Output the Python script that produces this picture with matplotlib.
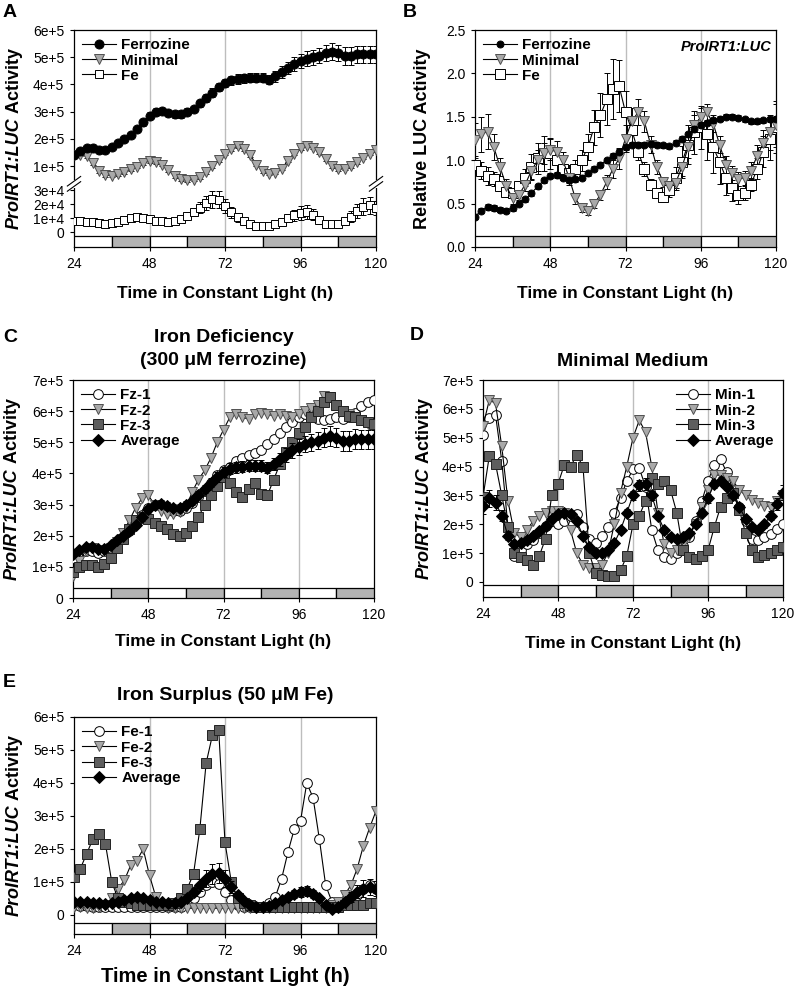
import numpy as np
import matplotlib
matplotlib.use('Agg')
import matplotlib.pyplot as plt
from matplotlib.patches import Rectangle
from matplotlib.font_manager import FontProperties
from matplotlib.transforms import IdentityTransform

plt.rcParams['font.family'] = 'Liberation Sans'

# time in constant light (h), 2 h sampling
hours = np.arange(24, 121, 2)

# ---- panel A / C : ProIRT1:LUC activity (x1e5 or x1e4) ----
ferrozine = [1.40, 1.55, 1.65, 1.65, 1.58, 1.58, 1.70, 1.85, 2.00, 2.15,
             2.35, 2.60, 2.85, 3.00, 3.02, 2.95, 2.90, 2.90, 3.00, 3.10,
             3.30, 3.50, 3.70, 3.90, 4.05, 4.15, 4.20, 4.22, 4.25, 4.25,
             4.25, 4.18, 4.30, 4.45, 4.60, 4.75, 4.85, 4.95, 5.00, 5.05,
             5.15, 5.20, 5.15, 5.05, 5.05, 5.10, 5.10, 5.10, 5.10]
ferrozine_err = [0.08, 0.08, 0.08, 0.08, 0.08, 0.08, 0.08, 0.09, 0.10, 0.10,
                 0.10, 0.12, 0.12, 0.12, 0.12, 0.12, 0.12, 0.12, 0.12, 0.12,
                 0.12, 0.14, 0.15, 0.16, 0.16, 0.17, 0.18, 0.18, 0.18, 0.18,
                 0.18, 0.18, 0.20, 0.22, 0.22, 0.24, 0.25, 0.26, 0.27, 0.28,
                 0.30, 0.32, 0.30, 0.32, 0.32, 0.32, 0.30, 0.30, 0.30]
minimal = [1.40, 1.42, 1.35, 1.10, 0.80, 0.66, 0.65, 0.70, 0.78, 0.88,
           0.98, 1.10, 1.18, 1.15, 1.05, 0.85, 0.62, 0.52, 0.47, 0.50,
           0.60, 0.78, 1.00, 1.22, 1.45, 1.62, 1.72, 1.62, 1.40, 1.05,
           0.82, 0.72, 0.75, 0.90, 1.20, 1.45, 1.65, 1.75, 1.68, 1.50,
           1.25, 1.00, 0.88, 0.90, 1.00, 1.15, 1.30, 1.45, 1.58]
minimal_err = [0.06] * 49
fe = [0.76, 0.76, 0.75, 0.72, 0.62, 0.60, 0.62, 0.75, 0.88, 0.98,
      1.05, 1.00, 0.92, 0.82, 0.78, 0.75, 0.78, 0.92, 1.15, 1.45,
      1.75, 2.10, 2.35, 2.30, 1.85, 1.40, 1.05, 0.80, 0.55, 0.45,
      0.45, 0.45, 0.55, 0.75, 1.00, 1.20, 1.35, 1.45, 1.25, 0.85,
      0.60, 0.55, 0.60, 0.80, 1.10, 1.50, 1.80, 1.90, 1.70]
fe_err = [0.10, 0.10, 0.10, 0.10, 0.10, 0.10, 0.10, 0.12, 0.15, 0.18,
          0.20, 0.20, 0.18, 0.15, 0.12, 0.12, 0.12, 0.15, 0.20, 0.30,
          0.40, 0.50, 0.60, 0.60, 0.50, 0.40, 0.30, 0.20, 0.15, 0.12,
          0.12, 0.12, 0.15, 0.20, 0.30, 0.40, 0.50, 0.50, 0.40, 0.30,
          0.20, 0.15, 0.20, 0.30, 0.40, 0.50, 0.60, 0.60, 0.50]

# ---- panel B : relative LUC activity ----
rel_ferrozine = [0.35, 0.42, 0.46, 0.45, 0.43, 0.42, 0.45, 0.50, 0.55, 0.62,
                 0.70, 0.77, 0.82, 0.83, 0.80, 0.77, 0.78, 0.80, 0.85, 0.90,
                 0.95, 1.00, 1.05, 1.10, 1.15, 1.18, 1.18, 1.18, 1.19, 1.18,
                 1.17, 1.16, 1.20, 1.25, 1.30, 1.36, 1.40, 1.43, 1.46, 1.48,
                 1.50, 1.50, 1.49, 1.47, 1.45, 1.45, 1.46, 1.47, 1.48]
rel_ferrozine_err = [0.03] * 49
rel_minimal = [1.23, 1.30, 1.33, 1.15, 0.92, 0.70, 0.56, 0.60, 0.72, 0.88,
               1.00, 1.08, 1.12, 1.10, 1.00, 0.80, 0.56, 0.45, 0.42, 0.50,
               0.60, 0.75, 0.90, 1.02, 1.25, 1.45, 1.55, 1.45, 1.18, 0.92,
               0.75, 0.70, 0.74, 0.92, 1.15, 1.40, 1.50, 1.55, 1.42, 1.18,
               0.95, 0.85, 0.78, 0.80, 0.88, 1.05, 1.20, 1.32, 1.40]
rel_minimal_err = [0.20, 0.20, 0.20, 0.15, 0.10, 0.08, 0.06, 0.06, 0.08, 0.10,
                   0.12, 0.12, 0.12, 0.12, 0.10, 0.08, 0.06, 0.05, 0.05, 0.05,
                   0.06, 0.08, 0.10, 0.12, 0.15, 0.15, 0.15, 0.12, 0.10, 0.08,
                   0.06, 0.06, 0.08, 0.10, 0.12, 0.12, 0.10, 0.10, 0.10, 0.10,
                   0.10, 0.08, 0.08, 0.08, 0.10, 0.12, 0.15, 0.20, 0.25]
rel_fe = [0.95, 0.88, 0.82, 0.78, 0.70, 0.63, 0.62, 0.70, 0.80, 0.92,
          1.02, 1.08, 1.08, 1.00, 0.90, 0.85, 0.90, 1.00, 1.15, 1.38,
          1.52, 1.70, 1.82, 1.85, 1.55, 1.35, 1.10, 0.90, 0.72, 0.62,
          0.58, 0.66, 0.80, 0.98, 1.18, 1.32, 1.38, 1.30, 1.15, 0.98,
          0.80, 0.68, 0.60, 0.62, 0.72, 0.90, 1.10, 1.25, 1.38]
rel_fe_err = [0.10, 0.10, 0.10, 0.08, 0.06, 0.05, 0.05, 0.06, 0.10, 0.15,
              0.18, 0.20, 0.18, 0.15, 0.12, 0.10, 0.10, 0.12, 0.15, 0.20,
              0.25, 0.30, 0.35, 0.30, 0.25, 0.15, 0.10, 0.08, 0.06, 0.05,
              0.05, 0.08, 0.12, 0.18, 0.22, 0.25, 0.25, 0.30, 0.30, 0.25,
              0.20, 0.15, 0.10, 0.08, 0.08, 0.12, 0.18, 0.25, 0.30]

# ---- panel C : iron deficiency replicates (x1e5) ----
fz1 = [1.30, 1.45, 1.50, 1.50, 1.45, 1.50, 1.60, 1.75, 1.95, 2.15,
       2.40, 2.65, 2.90, 3.00, 2.95, 2.85, 2.80, 2.80, 2.90, 3.05,
       3.25, 3.45, 3.70, 3.95, 4.10, 4.20, 4.40, 4.50, 4.60, 4.65,
       4.75, 4.95, 5.10, 5.30, 5.50, 5.65, 5.80, 5.90, 5.85, 5.75,
       5.70, 5.75, 5.80, 5.75, 5.80, 5.95, 6.15, 6.30, 6.35]
fz2 = [0.70, 1.20, 1.50, 1.60, 1.55, 1.50, 1.60, 1.80, 2.10, 2.50,
       2.90, 3.20, 3.30, 3.00, 2.80, 2.70, 2.70, 2.75, 2.90, 3.40,
       3.80, 4.10, 4.50, 5.00, 5.40, 5.80, 5.90, 5.80, 5.75, 5.90,
       5.95, 5.90, 5.85, 5.90, 5.85, 5.80, 5.90, 6.00, 6.10, 6.20,
       6.50, 6.45, 6.20, 6.00, 5.90, 5.80, 5.70, 5.60, 5.60]
fz3 = [0.85, 1.00, 1.05, 1.05, 1.00, 1.10, 1.30, 1.60, 1.90, 2.20,
       2.50, 2.60, 2.55, 2.40, 2.30, 2.20, 2.05, 2.00, 2.10, 2.30,
       2.60, 3.00, 3.30, 3.60, 3.90, 3.70, 3.40, 3.25, 3.50, 3.70,
       3.35, 3.30, 3.80, 4.30, 4.70, 5.00, 5.30, 5.50, 5.80, 6.00,
       6.30, 6.45, 6.20, 6.00, 5.85, 5.80, 5.70, 5.65, 5.60]

# ---- panel D : minimal medium replicates (x1e5) ----
min1 = [5.10, 5.70, 5.80, 4.20, 1.90, 0.90, 1.10, 1.30, 1.45, 1.70,
        1.95, 2.10, 2.00, 2.10, 2.30, 2.35, 1.90, 1.50, 1.35, 1.60,
        1.90, 2.40, 2.90, 3.50, 3.90, 3.95, 3.30, 1.80, 1.10, 0.85,
        0.80, 1.00, 1.25, 1.55, 2.10, 2.80, 3.50, 4.05, 4.25, 3.80,
        3.20, 2.60, 2.10, 1.50, 1.45, 1.55, 1.65, 1.85, 2.00]
min2 = [5.40, 6.30, 6.20, 4.70, 2.80, 1.70, 1.55, 1.80, 2.10, 2.30,
        2.40, 2.45, 2.45, 2.40, 1.80, 1.00, 0.60, 0.50, 0.50, 0.60,
        1.00, 2.00, 3.10, 4.00, 5.00, 5.60, 5.20, 4.00, 2.40, 1.30,
        1.00, 1.10, 1.30, 1.60, 2.00, 2.60, 3.20, 3.70, 3.70, 3.60,
        3.50, 3.20, 3.00, 2.85, 2.75, 2.65, 2.60, 2.80, 3.00]
min3 = [2.95, 4.35, 4.10, 3.00, 1.90, 1.00, 0.85, 0.75, 0.60, 0.90,
        1.50, 3.00, 3.40, 4.05, 4.00, 4.40, 4.00, 1.00, 0.30, 0.25,
        0.20, 0.20, 0.40, 0.90, 2.00, 2.30, 2.80, 3.60, 3.40, 3.50,
        3.20, 2.40, 1.10, 0.85, 0.80, 0.90, 1.10, 1.90, 2.60, 2.90,
        3.10, 2.50, 1.70, 1.10, 0.85, 0.95, 1.00, 1.10, 1.20]
min_avg = [2.65, 2.90, 2.75, 2.30, 1.60, 1.30, 1.35, 1.45, 1.60, 1.75,
           1.95, 2.20, 2.35, 2.40, 2.35, 2.10, 1.60, 1.20, 1.00, 1.00,
           1.10, 1.35, 1.80, 2.40, 3.00, 3.35, 3.40, 3.00, 2.30, 1.80,
           1.55, 1.50, 1.55, 1.70, 2.00, 2.40, 2.90, 3.40, 3.50, 3.30,
           3.00, 2.60, 2.20, 1.90, 1.80, 2.00, 2.30, 2.70, 3.10]
min_avg_err = [0.30, 0.30, 0.25, 0.20, 0.15, 0.10, 0.10, 0.10, 0.10, 0.10,
               0.10, 0.10, 0.10, 0.10, 0.10, 0.10, 0.10, 0.10, 0.10, 0.10,
               0.10, 0.10, 0.10, 0.12, 0.15, 0.20, 0.20, 0.15, 0.10, 0.10,
               0.10, 0.10, 0.10, 0.10, 0.10, 0.12, 0.15, 0.15, 0.15, 0.12,
               0.10, 0.10, 0.10, 0.10, 0.10, 0.12, 0.15, 0.20, 0.25]

# ---- panel E : iron surplus replicates (x1e5) ----
fe1 = [0.30, 0.28, 0.26, 0.25, 0.25, 0.25, 0.25, 0.25, 0.25, 0.25,
       0.25, 0.25, 0.25, 0.25, 0.25, 0.25, 0.25, 0.25, 0.35, 0.50,
       0.70, 0.90, 1.00, 0.95, 0.70, 0.45, 0.30, 0.25, 0.25, 0.25,
       0.25, 0.35, 0.55, 1.10, 1.90, 2.60, 2.85, 4.00, 3.55, 2.30,
       0.90, 0.40, 0.30, 0.30, 0.40, 0.60, 0.80, 0.90, 0.80]
fe2 = [0.25, 0.25, 0.20, 0.20, 0.25, 0.30, 0.50, 0.80, 1.05, 1.50,
       1.65, 2.00, 1.20, 0.55, 0.30, 0.20, 0.20, 0.20, 0.20, 0.20,
       0.20, 0.20, 0.20, 0.20, 0.20, 0.20, 0.20, 0.20, 0.20, 0.20,
       0.20, 0.20, 0.20, 0.20, 0.20, 0.20, 0.20, 0.20, 0.20, 0.20,
       0.20, 0.30, 0.40, 0.60, 0.90, 1.40, 2.10, 2.65, 3.15]
fe3 = [1.15, 1.40, 1.85, 2.30, 2.45, 2.15, 1.00, 0.50, 0.40, 0.35,
       0.30, 0.30, 0.30, 0.30, 0.30, 0.30, 0.35, 0.50, 0.80, 1.25,
       2.60, 4.60, 5.45, 5.60, 2.20, 1.00, 0.50, 0.35, 0.30, 0.25,
       0.25, 0.25, 0.25, 0.25, 0.25, 0.25, 0.25, 0.25, 0.25, 0.25,
       0.25, 0.25, 0.25, 0.30, 0.30, 0.30, 0.30, 0.35, 0.35]
fe_avg = [0.40, 0.40, 0.38, 0.35, 0.35, 0.33, 0.35, 0.40, 0.45, 0.50,
          0.55, 0.52, 0.45, 0.40, 0.38, 0.35, 0.35, 0.40, 0.50, 0.70,
          0.90, 1.10, 1.25, 1.28, 1.10, 0.85, 0.60, 0.42, 0.30, 0.25,
          0.25, 0.28, 0.35, 0.45, 0.55, 0.65, 0.70, 0.72, 0.65, 0.50,
          0.30, 0.18, 0.25, 0.40, 0.55, 0.70, 0.80, 0.85, 0.80]
fe_avg_err = [0.05, 0.05, 0.05, 0.05, 0.05, 0.05, 0.05, 0.05, 0.05, 0.05,
              0.06, 0.06, 0.06, 0.05, 0.05, 0.05, 0.05, 0.06, 0.08, 0.12,
              0.18, 0.25, 0.30, 0.30, 0.25, 0.18, 0.10, 0.06, 0.05, 0.05,
              0.05, 0.05, 0.06, 0.08, 0.10, 0.12, 0.15, 0.15, 0.12, 0.08,
              0.06, 0.05, 0.06, 0.10, 0.15, 0.20, 0.25, 0.25, 0.22]

LD_STARTS = [24, 36, 48, 60, 72, 84, 96, 108]
GRAY_TRI = '#a9a9a9'
DARK_SQ = '#5e5e5e'

W, H = 797, 991
fig = plt.figure(figsize=(W / 100, H / 100), dpi=100)
renderer = fig.canvas.get_renderer()
FP_IT = FontProperties(family='Liberation Sans', style='italic', weight='bold', size=13)
FP_B = FontProperties(family='Liberation Sans', weight='bold', size=13)


def add_ax(left, top, right, bottom):
    return fig.add_axes([left / W, 1 - bottom / H, (right - left) / W, (bottom - top) / H])


def luc_ylabel(ax, baseline_x):
    # "ProIRT1:LUC" bold italic + " Activity" bold, rotated, centred on the axes
    pos = ax.get_position()
    yc = (pos.y0 + pos.y1) / 2 * H
    w1 = renderer.get_text_width_height_descent('ProIRT1:LUC', FP_IT, ismath=False)[0]
    w2 = renderer.get_text_width_height_descent('\u00a0Activity', FP_B, ismath=False)[0]
    y0 = yc - (w1 + w2) / 2
    fig.text(baseline_x, y0, 'ProIRT1:LUC', fontproperties=FP_IT, rotation=90,
             rotation_mode='anchor', ha='left', va='baseline', transform=IdentityTransform())
    fig.text(baseline_x, y0 + w1, '\u00a0Activity', fontproperties=FP_B, rotation=90,
             rotation_mode='anchor', ha='left', va='baseline', transform=IdentityTransform())


def decorate(ax, bar_lo, bar_hi, ytop, yticks, ylabels, xlab_off, xlab_size=12.5):
    ax.set_xlim(24, 120)
    for i, x0 in enumerate(LD_STARTS):
        ax.add_patch(Rectangle((x0, bar_lo), 12, bar_hi - bar_lo,
                               facecolor='white' if i % 2 == 0 else '#b3b3b3',
                               edgecolor='black', lw=0.9, zorder=4))
    ax.vlines([48, 72, 96], bar_hi, ytop, color='#bdbdbd', lw=1.0, zorder=0)
    ax.set_xticks([24, 48, 72, 96, 120])
    ax.set_yticks(yticks)
    ax.set_yticklabels(ylabels)
    ax.minorticks_off()
    ax.tick_params(direction='out', length=3, width=0.8, labelsize=10, pad=4)
    for s in ax.spines.values():
        s.set_linewidth(0.9)
    ax.text(0.5, -xlab_off, 'Time in Constant Light (h)', transform=ax.transAxes,
            ha='center', va='center', fontsize=xlab_size, fontweight='bold')


def series(ax, y, scale, marker, mfc, mec, ms, label, z, err=None):
    y = np.array(y) * scale
    if err is not None:
        ax.errorbar(hours, y, yerr=np.array(err) * scale, fmt='none', ecolor='black',
                    elinewidth=0.7, capsize=2.2, capthick=0.7, zorder=z - 0.5)
    ax.plot(hours, y, color='black', lw=0.8, marker=marker, ms=ms, mfc=mfc, mec=mec,
            mew=0.7, label=label, zorder=z)


def legend(ax, loc):
    ax.legend(loc=loc, frameon=False, prop={'weight': 'bold', 'size': 11},
              handlelength=2.2, labelspacing=0.08, borderaxespad=0.15, handletextpad=0.35)


# ===== A : broken axis =====
SPLIT = 34397.0


def fwd(y):
    y = np.asarray(y, dtype=float)
    return np.where(y <= SPLIT, y * 1.4e-3, 66 + (y - 1e5) * 2.72e-4)


def inv(u):
    u = np.asarray(u, dtype=float)
    return np.where(u <= SPLIT * 1.4e-3, u / 1.4e-3, 1e5 + (u - 66) / 2.72e-4)


axA = add_ax(74, 30, 376, 247)
axA.set_yscale('function', functions=(fwd, inv))
axA.set_ylim(-10714, 6e5)
series(axA, ferrozine, 1e5, 'o', 'black', 'black', 6.5, 'Ferrozine', 6, ferrozine_err)
series(axA, minimal, 1e5, 'v', GRAY_TRI, '#505050', 7.0, 'Minimal', 5, minimal_err)
series(axA, fe, 1e4, 's', 'white', 'black', 6.0, 'Fe', 4.6, fe_err)
decorate(axA, -10714, -2857, 6e5,
         [0, 1e4, 2e4, 3e4, 1e5, 2e5, 3e5, 4e5, 5e5, 6e5],
         ['0', '1e+4', '2e+4', '3e+4', '1e+5', '2e+5', '3e+5', '4e+5', '5e+5', '6e+5'],
         0.212)
luc_ylabel(axA, 19)
legend(axA, 'upper left')
yb = (float(fwd(SPLIT)) + 15) / 217
for xp in (0, 1):
    axA.add_patch(Rectangle((xp - 0.02, yb - 0.018), 0.04, 0.036, transform=axA.transAxes,
                            facecolor='white', edgecolor='none', clip_on=False, zorder=10))
    for dy in (-0.012, 0.012):
        axA.plot([xp - 0.022, xp + 0.022], [yb + dy - 0.022, yb + dy + 0.022],
                 transform=axA.transAxes, color='black', lw=0.8, clip_on=False, zorder=11)

# ===== B =====
axB = add_ax(475, 30, 776, 247)
axB.set_ylim(0, 2.5)
series(axB, rel_ferrozine, 1, 'o', 'black', 'black', 5.0, 'Ferrozine', 6, rel_ferrozine_err)
series(axB, rel_minimal, 1, 'v', GRAY_TRI, '#505050', 7.0, 'Minimal', 5, rel_minimal_err)
series(axB, rel_fe, 1, 's', 'white', 'black', 6.5, 'Fe', 4.6, rel_fe_err)
decorate(axB, 0, 0.127, 2.5, [0, 0.5, 1.0, 1.5, 2.0, 2.5],
         ['0.0', '0.5', '1.0', '1.5', '2.0', '2.5'], 0.212)
axB.set_ylabel('Relative LUC Activity', fontsize=13, fontweight='bold')
axB.yaxis.set_label_coords(-0.146, 0.5)
legend(axB, 'upper left')
axB.text(0.985, 0.955, 'ProIRT1:LUC', transform=axB.transAxes, ha='right', va='top',
         fontsize=10.5, fontweight='bold', fontstyle='italic')

# ===== C =====
axC = add_ax(73, 380, 374, 598)
axC.set_ylim(0, 7e5)
series(axC, fz1, 1e5, 'o', 'white', 'black', 7.0, 'Fz-1', 3)
series(axC, fz2, 1e5, 'v', GRAY_TRI, '#505050', 7.5, 'Fz-2', 4)
series(axC, fz3, 1e5, 's', DARK_SQ, '#222222', 7.0, 'Fz-3', 5)
series(axC, ferrozine, 1e5, 'D', 'black', 'black', 6.0, 'Average', 6, ferrozine_err)
decorate(axC, 0, 0.33e5, 7e5, [i * 1e5 for i in range(8)],
         ['0'] + ['%de+5' % i for i in range(1, 8)], 0.2)
luc_ylabel(axC, 17)
legend(axC, 'upper left')
axC.set_title('Iron Deficiency\n(300 \u03bcM ferrozine)', fontsize=14,
              fontweight='bold', pad=11, linespacing=1.45)

# ===== D =====
axD = add_ax(483, 380, 783, 597)
axD.set_ylim(-0.52e5, 7e5)
series(axD, min1, 1e5, 'o', 'white', 'black', 7.0, 'Min-1', 3)
series(axD, min2, 1e5, 'v', GRAY_TRI, '#505050', 7.5, 'Min-2', 4)
series(axD, min3, 1e5, 's', DARK_SQ, '#222222', 7.0, 'Min-3', 5)
series(axD, min_avg, 1e5, 'D', 'black', 'black', 6.0, 'Average', 6, min_avg_err)
decorate(axD, -0.52e5, -0.1e5, 7e5, [i * 1e5 for i in range(8)],
         ['0'] + ['%de+5' % i for i in range(1, 8)], 0.212)
luc_ylabel(axD, 429)
legend(axD, 'upper right')
axD.set_title('Minimal Medium', fontsize=14, fontweight='bold', pad=10)

# ===== E =====
axE = add_ax(74, 717, 376, 934)
axE.set_ylim(-0.576e5, 6e5)
series(axE, fe1, 1e5, 'o', 'white', 'black', 7.0, 'Fe-1', 3)
series(axE, fe2, 1e5, 'v', GRAY_TRI, '#505050', 7.5, 'Fe-2', 4)
series(axE, fe3, 1e5, 's', DARK_SQ, '#222222', 7.0, 'Fe-3', 5)
series(axE, fe_avg, 1e5, 'D', 'black', 'black', 6.0, 'Average', 6, fe_avg_err)
decorate(axE, -0.576e5, -0.24e5, 6e5, [i * 1e5 for i in range(7)],
         ['0'] + ['%de+5' % i for i in range(1, 7)], 0.198, xlab_size=14.5)
luc_ylabel(axE, 19)
legend(axE, 'upper left')
axE.set_title('Iron Surplus (50 \u03bcM Fe)', fontsize=14, fontweight='bold', pad=12)

# panel letters
for letter, x, y in [('A', 3, 4), ('B', 403, 4), ('C', 3, 329), ('D', 410, 327), ('E', 3, 674)]:
    fig.text(x / W, 1 - y / H, letter, ha='left', va='top', fontsize=14, fontweight='bold')

fig.savefig('out.png', dpi=100, facecolor='white')
